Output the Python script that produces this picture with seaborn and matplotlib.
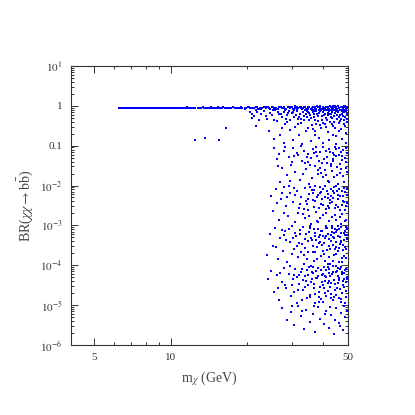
"""BR(chi chi -> b bbar) vs m_chi scatter, log-log."""
import numpy as np
import pandas as pd
import matplotlib
matplotlib.use('Agg')
import matplotlib.pyplot as plt
import matplotlib.ticker as mticker
import seaborn as sns

# --- datos ---
# banda horizontal cerca de BR ~ 0.88
band_x = [6.25, 6.35, 6.45, 6.6, 6.7, 6.8, 6.95, 7.05, 7.2, 7.3, 7.45, 7.6, 7.7, 7.85,
          8.0, 8.15, 8.3, 8.45, 8.6, 8.75, 8.9, 9.05, 9.2, 9.4, 9.55, 9.7, 9.9, 10.1,
          10.3, 10.5, 10.7, 10.9, 11.1, 11.3, 11.5, 11.7, 11.9, 12.1, 12.3, 12.5, 12.8,
          13.0, 13.2, 13.5, 13.7, 14.0, 14.2, 14.5, 14.7, 15.0, 15.3, 15.5, 15.8, 16.1,
          16.4, 16.7, 17.0, 17.3, 17.6, 17.9, 18.2, 18.6, 18.9, 19.2, 19.6, 19.9, 20.3,
          20.6, 21.0, 21.4, 21.8, 22.2, 22.6, 23.0, 23.4, 23.8, 24.2, 24.7, 25.1, 25.6,
          26.0, 26.5, 27.0, 27.5, 28.0, 28.5, 29.0, 29.5, 30.0, 30.6, 31.1, 31.7, 32.3,
          32.9, 33.5, 34.1, 34.7, 35.3, 36.0, 36.6, 37.3, 38.0, 38.7, 39.4, 40.1, 40.8,
          41.5, 42.3, 43.0, 43.8, 44.6, 45.4, 46.2, 47.0, 47.9, 48.7, 49.6]
band_y = [0.88, 0.89, 0.88, 0.89, 0.88, 0.88, 0.89, 0.88, 0.89, 0.88, 0.89, 0.88, 0.88, 0.89,
          0.88, 0.89, 0.88, 0.89, 0.88, 0.89, 0.88, 0.89, 0.88, 0.89, 0.88, 0.89, 0.88, 0.89,
          0.90, 0.88, 0.89, 0.87, 0.89, 0.90, 0.88, 0.89, 0.87, 0.90, 0.88, 0.89, 0.87,
          0.90, 0.88, 0.89, 0.87, 0.90, 0.88, 0.91, 0.87, 0.89, 0.90, 0.88, 0.87, 0.91,
          0.89, 0.88, 0.90, 0.87, 0.91, 0.88, 0.89, 0.86, 0.91, 0.88, 0.90, 0.87, 0.92,
          0.86, 0.90, 0.88, 0.93, 0.85, 0.90, 0.87, 0.92, 0.86, 0.91, 0.84, 0.93, 0.87,
          0.90, 0.85, 0.92, 0.88, 0.94, 0.84, 0.91, 0.86, 0.93, 0.83, 0.90, 0.87, 0.94,
          0.85, 0.92, 0.82, 0.90, 0.95, 0.86, 0.92, 0.83, 0.94, 0.88, 0.84, 0.93, 0.86,
          0.95, 0.82, 0.91, 0.87, 0.94, 0.83, 0.90, 0.96, 0.85, 0.92, 0.88]
# segunda fila de la banda (mas fina a la izquierda)
band2_x = [6.3, 6.55, 6.85, 7.15, 7.5, 7.8, 8.1, 8.4, 8.7, 9.0, 9.3, 9.65, 10.0, 10.4,
           10.8, 11.2, 11.6, 12.0, 12.4, 12.9, 13.4, 13.9, 14.4, 14.9, 15.4, 16.0, 16.5,
           17.1, 17.7, 18.4, 19.0, 19.7, 20.4, 21.2, 22.0, 22.8, 23.6, 24.5, 25.4, 26.3,
           27.2, 28.2, 29.2, 30.3, 31.4, 32.6, 33.8, 35.0, 36.3, 37.6, 39.0, 40.4, 41.9,
           43.4, 45.0, 46.6, 48.3, 49.9]
band2_y = [0.90, 0.87, 0.90, 0.87, 0.90, 0.87, 0.90, 0.87, 0.90, 0.87, 0.90, 0.87, 0.90, 0.87,
           0.90, 0.87, 0.91, 0.86, 0.90, 0.87, 0.91, 0.86, 0.90, 0.87, 0.91, 0.86, 0.90,
           0.87, 0.92, 0.86, 0.90, 0.85, 0.92, 0.86, 0.91, 0.84, 0.93, 0.86, 0.92, 0.83,
           0.94, 0.85, 0.92, 0.82, 0.95, 0.86, 0.93, 0.81, 0.96, 0.85, 0.93, 0.80, 0.96,
           0.84, 0.93, 0.80, 0.97, 0.86]
# engrosamiento de la banda a masas altas
band_thick_x = [22.5, 24.0, 25.4, 26.9, 28.2, 29.8, 31.4, 32.6, 33.8, 35.0, 36.3, 37.0, 38.4,
                39.0, 39.8, 40.5, 41.2, 41.9, 42.7, 43.4, 44.2, 44.9, 45.7, 46.5, 47.3, 48.1,
                48.9, 49.4, 30.9, 34.4, 37.7, 40.1, 42.0, 44.5, 46.9, 49.8, 36.8, 43.7, 47.6,
                23.3, 27.7, 33.2, 35.7, 38.9, 41.6, 45.1, 47.9, 49.1]
band_thick_y = [0.82, 0.95, 0.80, 0.93, 0.79, 0.96, 0.81, 0.94, 0.78, 0.96, 0.80, 0.93, 0.77,
                0.97, 0.81, 0.78, 0.95, 0.80, 0.97, 0.76, 0.94, 0.79, 0.97, 0.77, 0.95, 0.78,
                0.98, 0.76, 0.97, 0.77, 0.98, 0.96, 0.76, 0.98, 0.79, 0.95, 0.75, 0.97, 0.75,
                0.91, 0.86, 0.90, 0.85, 0.92, 0.87, 0.86, 0.91, 0.84]

# puntos aislados a masa baja
lone_x = [12.5, 13.7, 15.6, 16.6, 21.0, 21.8]
lone_y = [0.14, 0.16, 0.14, 0.27, 0.50, 0.31]

# cola dispersa, por decadas de BR
tail_1e0 = [(20.5, 0.72), (21.3, 0.55), (22.0, 0.68), (22.8, 0.61), (23.4, 0.74), (24.1, 0.48),
            (24.6, 0.66), (25.2, 0.58), (25.9, 0.77), (26.3, 0.41), (26.8, 0.63), (27.4, 0.52),
            (27.9, 0.71), (28.3, 0.35), (28.8, 0.59), (29.2, 0.76), (29.7, 0.44), (30.1, 0.65),
            (30.6, 0.53), (31.0, 0.29), (31.5, 0.73), (31.9, 0.47), (32.4, 0.62), (32.8, 0.38),
            (33.3, 0.69), (33.7, 0.56), (34.2, 0.24), (34.6, 0.75), (35.1, 0.45), (35.5, 0.60),
            (36.0, 0.33), (36.4, 0.70), (36.9, 0.51), (37.3, 0.19), (37.8, 0.64), (38.2, 0.42),
            (38.7, 0.74), (39.1, 0.27), (39.6, 0.57), (40.0, 0.68), (40.5, 0.36), (40.9, 0.49),
            (41.4, 0.77), (41.8, 0.22), (42.3, 0.61), (42.7, 0.40), (43.2, 0.72), (43.6, 0.31),
            (44.1, 0.55), (44.5, 0.66), (45.0, 0.17), (45.4, 0.46), (45.9, 0.74), (46.3, 0.37),
            (46.8, 0.58), (47.2, 0.26), (47.7, 0.69), (48.1, 0.43), (48.6, 0.53), (49.0, 0.21),
            (49.5, 0.64), (24.5, 0.23), (25.7, 0.15), (27.1, 0.19), (28.0, 0.12), (29.5, 0.25),
            (30.4, 0.14), (32.0, 0.18), (33.0, 0.11), (34.9, 0.28), (35.8, 0.13), (37.0, 0.23),
            (38.5, 0.16), (39.8, 0.12), (41.1, 0.30), (42.0, 0.14), (43.9, 0.19), (44.8, 0.11),
            (46.0, 0.24), (47.5, 0.15), (48.8, 0.32), (49.3, 0.12), (30.8, 0.79), (34.0, 0.80),
            (36.2, 0.78), (38.0, 0.55), (39.3, 0.80), (40.7, 0.62), (42.5, 0.79), (43.4, 0.50),
            (44.3, 0.78), (45.2, 0.60), (46.6, 0.79), (47.9, 0.56), (49.2, 0.78), (48.3, 0.71),
            (47.0, 0.48), (45.7, 0.69), (44.0, 0.39), (41.6, 0.58), (37.6, 0.35), (35.3, 0.66),
            (33.5, 0.43), (31.2, 0.58), (28.6, 0.47), (26.6, 0.70), (23.8, 0.57), (22.4, 0.45),
            (21.7, 0.78), (20.9, 0.63), (29.0, 0.67), (32.2, 0.51), (35.0, 0.72), (37.1, 0.44),
            (39.9, 0.38), (43.0, 0.63), (46.1, 0.52), (48.4, 0.34), (49.7, 0.47), (44.7, 0.28),
            (41.3, 0.45), (38.4, 0.66), (36.6, 0.26), (34.4, 0.52), (31.7, 0.35), (27.6, 0.28),
            (25.5, 0.45), (27.2, 0.62), (28.9, 0.39), (30.3, 0.72), (32.6, 0.47), (34.1, 0.63),
            (35.9, 0.50), (37.5, 0.74), (39.4, 0.44), (40.3, 0.58), (41.9, 0.67), (43.5, 0.36),
            (44.9, 0.73), (46.5, 0.42), (47.4, 0.63), (48.5, 0.76), (49.6, 0.39), (42.9, 0.52),
            (38.9, 0.33), (36.7, 0.61)]
tail_1e1 = [(25.6, 0.085), (26.2, 0.045), (26.9, 0.062), (27.5, 0.028), (28.1, 0.072), (28.7, 0.018),
            (29.3, 0.051), (29.9, 0.033), (30.5, 0.089), (31.1, 0.022), (31.7, 0.058), (32.3, 0.014),
            (32.9, 0.041), (33.5, 0.075), (34.1, 0.026), (34.7, 0.063), (35.3, 0.011), (35.9, 0.048),
            (36.5, 0.082), (37.1, 0.031), (37.7, 0.056), (38.3, 0.019), (38.9, 0.068), (39.5, 0.037),
            (40.1, 0.092), (40.7, 0.024), (41.3, 0.053), (41.9, 0.013), (42.5, 0.071), (43.1, 0.035),
            (43.7, 0.047), (44.3, 0.016), (44.9, 0.084), (45.5, 0.029), (46.1, 0.060), (46.7, 0.021),
            (47.3, 0.044), (47.9, 0.077), (48.5, 0.012), (49.1, 0.039), (49.6, 0.066), (27.0, 0.012),
            (28.4, 0.095), (30.0, 0.039), (31.4, 0.067), (33.2, 0.020), (34.4, 0.052), (36.0, 0.015),
            (37.4, 0.094), (39.0, 0.027), (40.4, 0.045), (42.0, 0.081), (43.4, 0.023), (45.0, 0.056),
            (46.4, 0.034), (48.0, 0.017), (49.4, 0.088), (38.6, 0.042), (41.0, 0.074), (44.0, 0.060),
            (47.0, 0.026), (35.6, 0.033), (32.6, 0.097), (29.6, 0.013), (26.5, 0.030), (48.8, 0.050),
            (45.8, 0.011), (42.8, 0.030), (39.8, 0.016), (33.9, 0.036), (36.8, 0.064), (40.9, 0.018),
            (43.9, 0.041), (46.9, 0.069), (49.8, 0.022), (44.6, 0.091), (38.0, 0.025), (30.8, 0.055),
            (35.0, 0.038), (37.5, 0.071), (39.3, 0.021), (41.5, 0.036), (43.6, 0.065), (45.3, 0.018),
            (47.6, 0.055), (49.0, 0.028), (46.2, 0.087), (42.3, 0.012)]
tail_1e2 = [(24.8, 0.0055), (25.4, 0.0023), (26.0, 0.0081), (26.7, 0.0014), (27.3, 0.0046),
            (27.9, 0.0093), (28.5, 0.0031), (29.1, 0.0017), (29.7, 0.0066), (30.3, 0.0038),
            (30.9, 0.0012), (31.5, 0.0074), (32.1, 0.0027), (32.7, 0.0051), (33.3, 0.0019),
            (33.9, 0.0088), (34.5, 0.0035), (35.1, 0.0061), (35.7, 0.0011), (36.3, 0.0043),
            (36.9, 0.0079), (37.5, 0.0022), (38.1, 0.0057), (38.7, 0.0015), (39.3, 0.0069),
            (39.9, 0.0033), (40.5, 0.0097), (41.1, 0.0026), (41.7, 0.0048), (42.3, 0.0013),
            (42.9, 0.0084), (43.5, 0.0039), (44.1, 0.0063), (44.7, 0.0018), (45.3, 0.0072),
            (45.9, 0.0029), (46.5, 0.0053), (47.1, 0.0011), (47.7, 0.0041), (48.3, 0.0089),
            (48.9, 0.0024), (49.5, 0.0059), (26.4, 0.0036), (28.0, 0.0021), (29.4, 0.0098),
            (31.0, 0.0058), (32.4, 0.0034), (34.0, 0.0015), (35.4, 0.0091), (37.0, 0.0041),
            (38.4, 0.0028), (40.0, 0.0018), (41.4, 0.0071), (43.0, 0.0056), (44.4, 0.0027),
            (46.0, 0.0083), (47.4, 0.0032), (49.0, 0.0014), (36.6, 0.0065), (39.6, 0.0046),
            (42.6, 0.0037), (45.6, 0.0045), (48.6, 0.0067), (33.6, 0.0025), (30.6, 0.0087),
            (27.6, 0.0064), (44.8, 0.0099), (41.8, 0.0031), (38.8, 0.0093), (35.0, 0.0024),
            (47.6, 0.0019), (49.8, 0.0036), (46.8, 0.0016), (43.8, 0.0074), (40.8, 0.0052),
            (37.8, 0.0013), (34.8, 0.0047), (31.8, 0.0021), (28.8, 0.0052), (34.2, 0.0042),
            (35.3, 0.0017), (36.1, 0.0076), (36.8, 0.0029), (37.7, 0.0051), (38.3, 0.0012),
            (39.2, 0.0035), (40.1, 0.0082), (40.9, 0.0021), (41.6, 0.0062), (42.4, 0.0044),
            (43.2, 0.0016), (44.0, 0.0091), (44.9, 0.0033), (45.7, 0.0058), (46.6, 0.0024),
            (47.3, 0.0071), (48.2, 0.0039), (48.9, 0.0013), (49.6, 0.0081), (38.9, 0.0066),
            (42.0, 0.0027), (45.0, 0.0014), (47.9, 0.0055), (49.2, 0.0031), (43.7, 0.0048),
            (37.2, 0.0095)]
tail_1e3 = [(24.0, 0.00018), (24.7, 0.00062), (25.3, 0.00031), (25.9, 0.00085), (26.5, 0.00014),
            (27.1, 0.00047), (27.7, 0.00023), (28.3, 0.00071), (28.9, 0.00012), (29.5, 0.00039),
            (30.1, 0.00094), (30.7, 0.00026), (31.3, 0.00055), (31.9, 0.00016), (32.5, 0.00078),
            (33.1, 0.00034), (33.7, 0.00011), (34.3, 0.00059), (34.9, 0.00021), (35.5, 0.00087),
            (36.1, 0.00042), (36.7, 0.00013), (37.3, 0.00066), (37.9, 0.00029), (38.5, 0.00051),
            (39.1, 0.00017), (39.7, 0.00074), (40.3, 0.00036), (40.9, 0.00097), (41.5, 0.00024),
            (42.1, 0.00045), (42.7, 0.00011), (43.3, 0.00068), (43.9, 0.00032), (44.5, 0.00082),
            (45.1, 0.00019), (45.7, 0.00054), (46.3, 0.00027), (46.9, 0.00091), (47.5, 0.00015),
            (48.1, 0.00043), (48.7, 0.00072), (49.3, 0.00025), (49.7, 0.00058), (26.0, 0.00028),
            (27.4, 0.00075), (28.6, 0.00044), (30.0, 0.00019), (31.0, 0.00063), (32.2, 0.00037),
            (33.4, 0.00089), (34.6, 0.00014), (35.8, 0.00049), (37.0, 0.00022), (38.2, 0.00081),
            (39.4, 0.00033), (40.6, 0.00013), (41.8, 0.00061), (43.0, 0.00041), (44.2, 0.00018),
            (45.4, 0.00077), (46.6, 0.00035), (47.8, 0.00024), (49.0, 0.00093), (36.4, 0.00031),
            (38.8, 0.00057), (41.2, 0.00084), (42.4, 0.00026), (43.6, 0.00052), (44.8, 0.00039),
            (46.0, 0.00012), (47.2, 0.00064), (48.4, 0.00017), (49.6, 0.00046), (40.0, 0.00023),
            (37.6, 0.00043), (35.2, 0.00069), (32.8, 0.00021), (30.4, 0.00048), (29.2, 0.00083),
            (33.9, 0.00045), (45.9, 0.00095), (48.0, 0.00033), (42.0, 0.00016), (34.0, 0.00027),
            (36.9, 0.00079), (39.0, 0.00038), (41.0, 0.00053), (43.4, 0.00088), (45.0, 0.00029),
            (47.0, 0.00041), (48.9, 0.00056), (44.0, 0.00064), (31.6, 0.00031), (28.0, 0.00056),
            (32.4, 0.00062), (33.6, 0.00018), (34.7, 0.00041), (35.6, 0.00095), (36.3, 0.00022),
            (37.1, 0.00055), (37.8, 0.00014), (38.6, 0.00036), (39.3, 0.00072), (40.2, 0.00019),
            (40.8, 0.00047), (41.5, 0.00088), (42.2, 0.00031), (42.9, 0.00058), (43.7, 0.00013),
            (44.3, 0.00049), (45.0, 0.00067), (45.6, 0.00023), (46.2, 0.00081), (46.9, 0.00038),
            (47.6, 0.00012), (48.2, 0.00063), (48.8, 0.00028), (49.5, 0.00079), (39.9, 0.00053),
            (43.2, 0.00098), (46.7, 0.00052), (49.1, 0.00015), (44.6, 0.00026), (41.9, 0.00011)]
tail_1e4 = [(24.3, 4.5e-5), (25.0, 7.2e-5), (25.6, 2.1e-5), (26.2, 5.6e-5), (26.8, 1.3e-5),
            (27.4, 3.8e-5), (28.0, 8.7e-5), (28.6, 2.6e-5), (29.2, 6.1e-5), (29.8, 1.7e-5),
            (30.4, 4.4e-5), (31.0, 7.9e-5), (31.6, 1.1e-5), (32.2, 3.3e-5), (32.8, 6.8e-5),
            (33.4, 2.4e-5), (34.0, 5.2e-5), (34.6, 1.5e-5), (35.2, 9.1e-5), (35.8, 3.7e-5),
            (36.4, 6.3e-5), (37.0, 1.9e-5), (37.6, 4.7e-5), (38.2, 8.4e-5), (38.8, 2.9e-5),
            (39.4, 5.8e-5), (40.0, 1.2e-5), (40.6, 4.1e-5), (41.2, 7.4e-5), (41.8, 2.2e-5),
            (42.4, 5.3e-5), (43.0, 3.5e-5), (43.6, 9.6e-5), (44.2, 1.6e-5), (44.8, 6.6e-5),
            (45.4, 2.7e-5), (46.0, 4.8e-5), (46.6, 8.1e-5), (47.2, 1.4e-5), (47.8, 3.9e-5),
            (48.4, 6.2e-5), (49.0, 2.3e-5), (49.6, 5.1e-5), (27.0, 6.4e-5), (28.4, 3.1e-5),
            (29.6, 9.5e-5), (30.8, 2.1e-5), (32.0, 5.7e-5), (33.2, 4.2e-5), (34.4, 7.6e-5),
            (35.6, 1.8e-5), (36.8, 3.4e-5), (38.0, 5.5e-5), (39.2, 1.4e-5), (40.4, 8.8e-5),
            (41.6, 3.6e-5), (42.8, 1.9e-5), (44.0, 4.3e-5), (45.2, 7.1e-5), (46.4, 2.5e-5),
            (47.6, 5.9e-5), (48.8, 1.1e-5), (49.4, 8.2e-5), (31.4, 5.0e-5), (33.8, 2.8e-5),
            (36.2, 4.6e-5), (37.4, 7.1e-5), (39.8, 3.2e-5), (41.0, 1.7e-5), (43.4, 6.1e-5),
            (45.8, 3.5e-5), (47.0, 9.2e-5), (48.2, 4.4e-5), (44.6, 2.4e-5), (42.2, 7.8e-5),
            (40.8, 5.5e-5), (38.6, 2.1e-5), (35.0, 5.8e-5), (33.0, 1.3e-5), (34.8, 3.1e-5),
            (36.6, 8.9e-5), (38.4, 1.6e-5), (40.2, 2.6e-5), (42.0, 4.0e-5), (43.8, 1.3e-5),
            (45.6, 5.3e-5), (47.4, 2.0e-5), (49.2, 3.7e-5), (30.0, 3.2e-5), (26.5, 2.6e-5),
            (30.6, 5.6e-5), (31.9, 2.4e-5), (33.1, 8.1e-5), (34.2, 4.1e-5), (35.4, 1.6e-5),
            (36.0, 6.6e-5), (36.9, 2.7e-5), (37.8, 4.9e-5), (38.5, 1.2e-5), (39.1, 7.6e-5),
            (39.7, 3.8e-5), (40.5, 2.0e-5), (41.1, 5.1e-5), (41.7, 9.2e-5), (42.5, 2.9e-5),
            (43.1, 1.5e-5), (43.9, 6.9e-5), (44.5, 3.3e-5), (45.1, 1.8e-5), (45.7, 8.5e-5),
            (46.3, 4.2e-5), (46.9, 1.2e-5), (47.5, 6.7e-5), (48.1, 2.8e-5), (48.7, 7.4e-5),
            (49.3, 1.6e-5), (49.8, 4.6e-5), (37.2, 1.1e-5), (42.0, 6.3e-5), (44.9, 9.8e-5),
            (47.8, 3.1e-5), (35.7, 9.8e-5), (40.1, 6.0e-5), (46.0, 1.5e-5)]
tail_1e5 = [(27.5, 8.5e-6), (28.8, 4.2e-6), (29.9, 6.8e-6), (30.7, 3.1e-6), (31.8, 9.4e-6),
            (32.6, 5.2e-6), (33.5, 2.5e-6), (34.3, 7.7e-6), (35.4, 3.8e-6), (36.3, 6.1e-6),
            (37.2, 2.1e-6), (38.1, 8.9e-6), (39.0, 4.5e-6), (40.2, 3.3e-6), (41.1, 7.2e-6),
            (42.0, 2.7e-6), (43.1, 5.6e-6), (44.0, 1.9e-6), (45.1, 8.3e-6), (46.0, 3.6e-6),
            (47.0, 6.4e-6), (47.9, 2.4e-6), (48.8, 4.9e-6), (49.6, 7.1e-6), (36.8, 9.7e-6),
            (40.7, 5.8e-6), (44.5, 4.1e-6), (48.3, 9.2e-6), (33.0, 7.0e-6), (30.2, 9.5e-6),
            (42.6, 8.8e-6), (46.5, 2.9e-6)]

y_ticks = [1e-6, 1e-5, 1e-4, 1e-3, 1e-2, 0.1, 1, 10]
y_ticklabels = ['$10^{-6}$', '$10^{-5}$', '$10^{-4}$', '$10^{-3}$', '$10^{-2}$', '0.1', '1', '$10^{1}$']
x_ticks = [5, 10, 50]
x_ticklabels = ['5', '10', '50']


def main():
    tail = tail_1e0 + tail_1e1 + tail_1e2 + tail_1e3 + tail_1e4 + tail_1e5
    xs = band_x + band2_x + band_thick_x + lone_x + [p[0] for p in tail]
    ys = band_y + band2_y + band_thick_y + lone_y + [p[1] for p in tail]
    df = pd.DataFrame({'m': xs, 'br': ys})

    sns.set_style('ticks')
    plt.rcParams['font.family'] = ['Liberation Serif', 'DejaVu Serif']
    plt.rcParams['mathtext.fontset'] = 'stix'

    fig = plt.figure(figsize=(4.15, 4.15), dpi=100)
    ax = fig.add_axes([0.171, 0.169, 0.667, 0.672])
    sns.scatterplot(data=df, x='m', y='br', ax=ax, color='#0000ff', s=3.6,
                    linewidth=0, marker='s', legend=False)

    ax.set_xscale('log')
    ax.set_yscale('log')
    ax.set_xlim(4.05, 50)
    ax.set_ylim(1e-6, 10)

    ax.xaxis.set_major_locator(mticker.FixedLocator(x_ticks))
    ax.xaxis.set_major_formatter(mticker.FixedFormatter(x_ticklabels))
    ax.xaxis.set_minor_locator(mticker.FixedLocator([6, 7, 8, 9, 20, 30, 40]))
    ax.xaxis.set_minor_formatter(mticker.NullFormatter())
    ax.yaxis.set_major_locator(mticker.FixedLocator(y_ticks))
    ax.yaxis.set_major_formatter(mticker.FixedFormatter(y_ticklabels))
    ax.yaxis.set_minor_locator(mticker.LogLocator(base=10, subs=np.arange(2, 10), numticks=20))
    ax.yaxis.set_minor_formatter(mticker.NullFormatter())

    ax.tick_params(which='both', direction='in', top=True, right=True,
                   labelsize=8, labelcolor='#333333', width=0.7, color='#333333')
    ax.tick_params(which='major', length=5, pad=6)
    ax.tick_params(which='minor', length=2.5)
    for sp in ax.spines.values():
        sp.set_linewidth(0.8)
        sp.set_color('#333333')

    ax.set_xlabel(r'm$_{\chi}$ (GeV)', fontsize=10, color='#444444', labelpad=5)
    ax.set_ylabel(r'BR($\chi\chi\rightarrow\mathrm{b}\bar{\mathrm{b}}$)', fontsize=10,
                  color='#444444', labelpad=4)

    fig.savefig('out.png', dpi=100)
    plt.close(fig)


if __name__ == '__main__':
    main()
